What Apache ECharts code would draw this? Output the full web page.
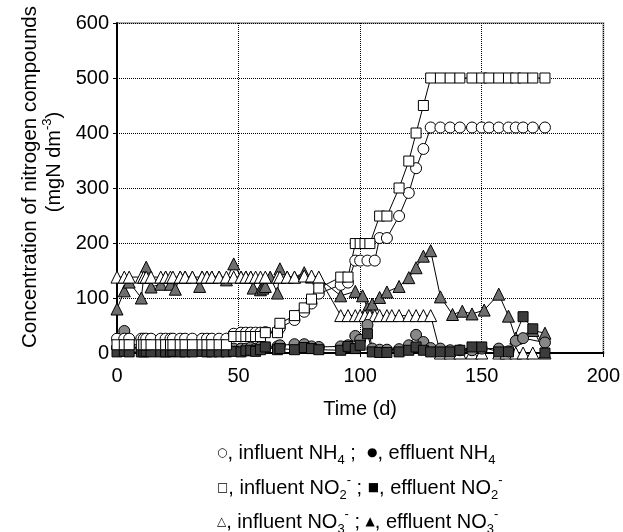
<!DOCTYPE html>
<html>
<head>
<meta charset="utf-8">
<script src="https://cdn.jsdelivr.net/npm/echarts@6/dist/echarts.min.js"></script>
<style>
  html, body { margin: 0; padding: 0; background: #fff; }
  #chart { width: 623px; height: 532px; }
</style>
</head>
<body>
<div id="chart"></div>
<script>
// axis ticks
const xTicks = [0, 50, 100, 150, 200];
const yTicks = [0, 100, 200, 300, 400, 500, 600];

// [day, mgN dm-3]
const influentNH4 = [
  [0, 26], [3, 26], [5, 26], [10, 26], [11, 26], [12, 26], [14, 26], [18, 26], [20, 26],
  [22, 26], [23, 26], [26, 26], [28, 26], [31, 26], [35, 26], [37, 26], [39, 26], [42, 26],
  [45, 26], [48, 35], [51, 37], [53, 37], [55, 37], [57, 37], [59, 37], [61, 38], [66, 38],
  [67, 46], [73, 60], [77, 75], [80, 90], [83, 108], [92, 124], [95, 128], [98, 168],
  [100, 168], [103, 168], [106, 168], [108, 209], [111, 209], [116, 249], [120, 291],
  [123, 336], [126, 371], [129, 410], [133, 410], [137, 410], [141, 410], [146, 410],
  [150, 410], [153, 410], [157, 410], [161, 410], [164, 410], [167, 410], [171, 410], [176, 410]
];
const effluentNH4 = [
  [0, 10], [3, 40], [5, 12], [10, 8], [11, 8], [12, 9], [14, 8], [18, 8], [20, 8], [22, 8],
  [23, 8], [26, 8], [28, 8], [31, 8], [35, 8], [37, 8], [39, 8], [42, 8], [45, 8], [48, 8],
  [51, 8], [53, 8], [55, 10], [57, 8], [59, 11], [61, 10], [66, 12], [67, 14], [73, 16],
  [77, 16], [80, 12], [83, 11], [92, 12], [95, 14], [98, 31], [100, 24], [103, 51], [105, 8],
  [108, 6], [111, 6], [116, 7], [120, 14], [123, 33], [126, 20], [129, 9], [133, 8], [137, 5],
  [141, 5], [146, 5], [150, 8], [157, 8], [161, 3], [164, 22], [167, 27], [176, 19]
];
const influentNO2 = [
  [0, 15], [3, 15], [5, 15], [10, 15], [11, 15], [12, 15], [14, 15], [18, 15], [20, 15],
  [22, 15], [23, 15], [26, 15], [28, 15], [31, 15], [35, 15], [37, 15], [39, 15], [42, 15],
  [45, 15], [48, 30], [51, 30], [53, 30], [55, 30], [57, 30], [59, 30], [61, 37], [66, 37],
  [67, 54], [73, 68], [77, 82], [80, 98], [83, 118], [92, 138], [95, 138], [98, 199],
  [100, 199], [102, 199], [104, 199], [108, 249], [111, 249], [116, 300], [120, 349],
  [123, 400], [126, 450], [129, 500], [133, 500], [137, 500], [141, 500], [146, 500],
  [150, 500], [153, 500], [157, 500], [161, 500], [164, 500], [167, 500], [171, 500], [176, 500]
];
const effluentNO2 = [
  [0, 2], [3, 3], [5, 2], [10, 2], [11, 2], [12, 3], [14, 2], [18, 2], [20, 2], [22, 2],
  [23, 3], [26, 2], [28, 2], [31, 2], [35, 3], [37, 2], [39, 2], [42, 2], [45, 2], [48, 3],
  [51, 2], [53, 4], [55, 5], [57, 3], [59, 6], [61, 11], [66, 6], [67, 8], [73, 6], [77, 10],
  [80, 8], [83, 6], [92, 5], [95, 12], [98, 8], [100, 14], [103, 35], [105, 2], [108, 1],
  [111, 1], [116, 2], [120, 5], [123, 11], [126, 5], [129, 2], [133, 2], [137, 2], [141, 5],
  [146, 11], [150, 11], [157, 2], [161, 2], [167, 66], [171, 44], [176, 0]
];
const influentNO3 = [
  [0, 138], [3, 138], [5, 138], [10, 138], [11, 138], [12, 138], [14, 138], [18, 138],
  [20, 138], [22, 138], [23, 138], [26, 138], [28, 138], [31, 138], [35, 138], [37, 138],
  [39, 138], [42, 138], [45, 138], [48, 138], [51, 138], [53, 138], [55, 138], [57, 138],
  [59, 138], [61, 138], [66, 138], [67, 138], [70, 138], [73, 138], [77, 140], [80, 140],
  [83, 138], [92, 68], [95, 68], [98, 68], [100, 68], [102, 68], [104, 68], [106, 68],
  [108, 68], [111, 68], [113, 68], [116, 68], [120, 68], [123, 68], [126, 68], [129, 68],
  [133, 0], [137, 0], [141, 0], [146, 0], [150, 0], [157, 0], [160, 0], [164, 0], [167, 0],
  [171, 0], [176, 0]
];
const effluentNO3 = [
  [0, 80], [3, 113], [5, 129], [10, 100], [11, 138], [12, 156], [14, 120], [18, 125],
  [20, 138], [22, 125], [24, 116], [26, 138], [28, 138], [31, 138], [34, 121], [35, 138],
  [37, 138], [39, 138], [42, 138], [45, 133], [48, 162], [51, 138], [53, 138], [55, 138],
  [56, 118], [59, 115], [60, 118], [61, 121], [63, 138], [66, 109], [67, 153], [70, 138],
  [73, 138], [77, 146], [80, 138], [83, 136], [92, 104], [98, 112], [101, 104], [103, 82],
  [105, 89], [108, 101], [111, 111], [116, 121], [120, 137], [123, 155], [126, 176],
  [129, 186], [133, 102], [138, 70], [142, 76], [146, 71], [151, 78], [157, 107], [161, 67],
  [164, 27], [171, 41], [176, 36]
];

const FONT = "'Liberation Sans', Arial, sans-serif";

function makeSeries(name, data, symbol, size, fill) {
  return {
    name: name,
    type: "line",
    data: data,
    symbol: symbol,
    symbolSize: size,
    showSymbol: true,
    lineStyle: { color: "#000", width: 1 },
    itemStyle: { color: fill, borderColor: "#000", borderWidth: 1 }
  };
}

function glyph(color) {
  return { fontSize: 12, lineHeight: 28, fontFamily: "DejaVu Sans", color: color };
}

const legendRich = {
  s: glyph("#000"),
  gc: glyph("#888"),
  gs: glyph("#3c3c3c"),
  gt: glyph("#777"),
  sub: { fontSize: 13, lineHeight: 13, verticalAlign: "bottom", fontFamily: FONT, color: "#000" },
  sup: { fontSize: 13, lineHeight: 18, verticalAlign: "top", fontFamily: FONT, color: "#000" }
};

function legendLine(text, y) {
  return {
    type: "text",
    x: 217,
    y: y,
    style: {
      text: text,
      fontSize: 20,
      lineHeight: 28,
      fontFamily: FONT,
      fill: "#000",
      textAlign: "left",
      textVerticalAlign: "middle",
      rich: legendRich
    }
  };
}

const option = {
  animation: false,
  backgroundColor: "#fff",
  textStyle: { fontFamily: FONT },
  grid: {
    left: 117,
    right: 18,
    top: 23,
    bottom: 179,
    show: true,
    borderColor: "#aaa",
    borderWidth: 2
  },
  xAxis: {
    type: "value",
    min: xTicks[0],
    max: xTicks[xTicks.length - 1],
    interval: 50,
    name: "Time (d)",
    nameLocation: "middle",
    nameGap: 46,
    nameTextStyle: { fontSize: 20, color: "#000", fontFamily: FONT },
    axisLine: { lineStyle: { color: "#000", width: 2 } },
    axisTick: { show: true, length: 4, lineStyle: { color: "#000" } },
    axisLabel: { fontSize: 20, color: "#000", margin: 13, fontFamily: FONT },
    splitLine: { show: true, lineStyle: { color: "#000", type: "dotted", width: 1 } }
  },
  yAxis: {
    type: "value",
    min: yTicks[0],
    max: yTicks[yTicks.length - 1],
    interval: 100,
    axisLine: { show: true, lineStyle: { color: "#000", width: 2 } },
    axisTick: { show: true, length: 4, lineStyle: { color: "#000" } },
    axisLabel: { fontSize: 20, color: "#000", margin: 8, fontFamily: FONT },
    splitLine: { show: true, lineStyle: { color: "#000", type: "dotted", width: 1 } }
  },
  graphic: [
    {
      type: "text",
      x: 30,
      y: 177,
      rotation: Math.PI / 2,
      style: {
        text: "Concentration of nitrogen compounds",
        fontSize: 20.5,
        fontFamily: FONT,
        fill: "#000",
        textAlign: "center",
        textVerticalAlign: "middle"
      }
    },
    {
      type: "text",
      x: 54,
      y: 162,
      rotation: Math.PI / 2,
      style: {
        text: "(mgN dm{sup|-3})",
        fontSize: 20,
        lineHeight: 26,
        fontFamily: FONT,
        fill: "#000",
        textAlign: "center",
        textVerticalAlign: "middle",
        rich: { sup: { fontSize: 13, lineHeight: 16, verticalAlign: "top", fontFamily: FONT, color: "#000" } }
      }
    },
    legendLine("{s|○}, influent NH{sub|4} ;  {gc|●}, effluent NH{sub|4}", 453),
    legendLine("{s|□}, influent NO{sub|2}{sup|-} ; {gs|■}, effluent NO{sub|2}{sup|-}", 488),
    legendLine("{s|△}, influent NO{sub|3}{sup|-} ; {gt|▲}, effluent NO{sub|3}{sup|-}", 522)
  ],
  series: [
    makeSeries("effluent NO3", effluentNO3, "triangle", 12, "#6e6e6e"),
    makeSeries("influent NO3", influentNO3, "triangle", 12, "#fff"),
    makeSeries("effluent NH4", effluentNH4, "circle", 11, "#888"),
    makeSeries("effluent NO2", effluentNO2, "rect", 10, "#3c3c3c"),
    makeSeries("influent NH4", influentNH4, "circle", 11, "#fff"),
    makeSeries("influent NO2", influentNO2, "rect", 10, "#fff")
  ]
};

const myChart = echarts.init(document.getElementById("chart"), null, { renderer: "canvas" });
myChart.setOption(option);
</script>
</body>
</html>
